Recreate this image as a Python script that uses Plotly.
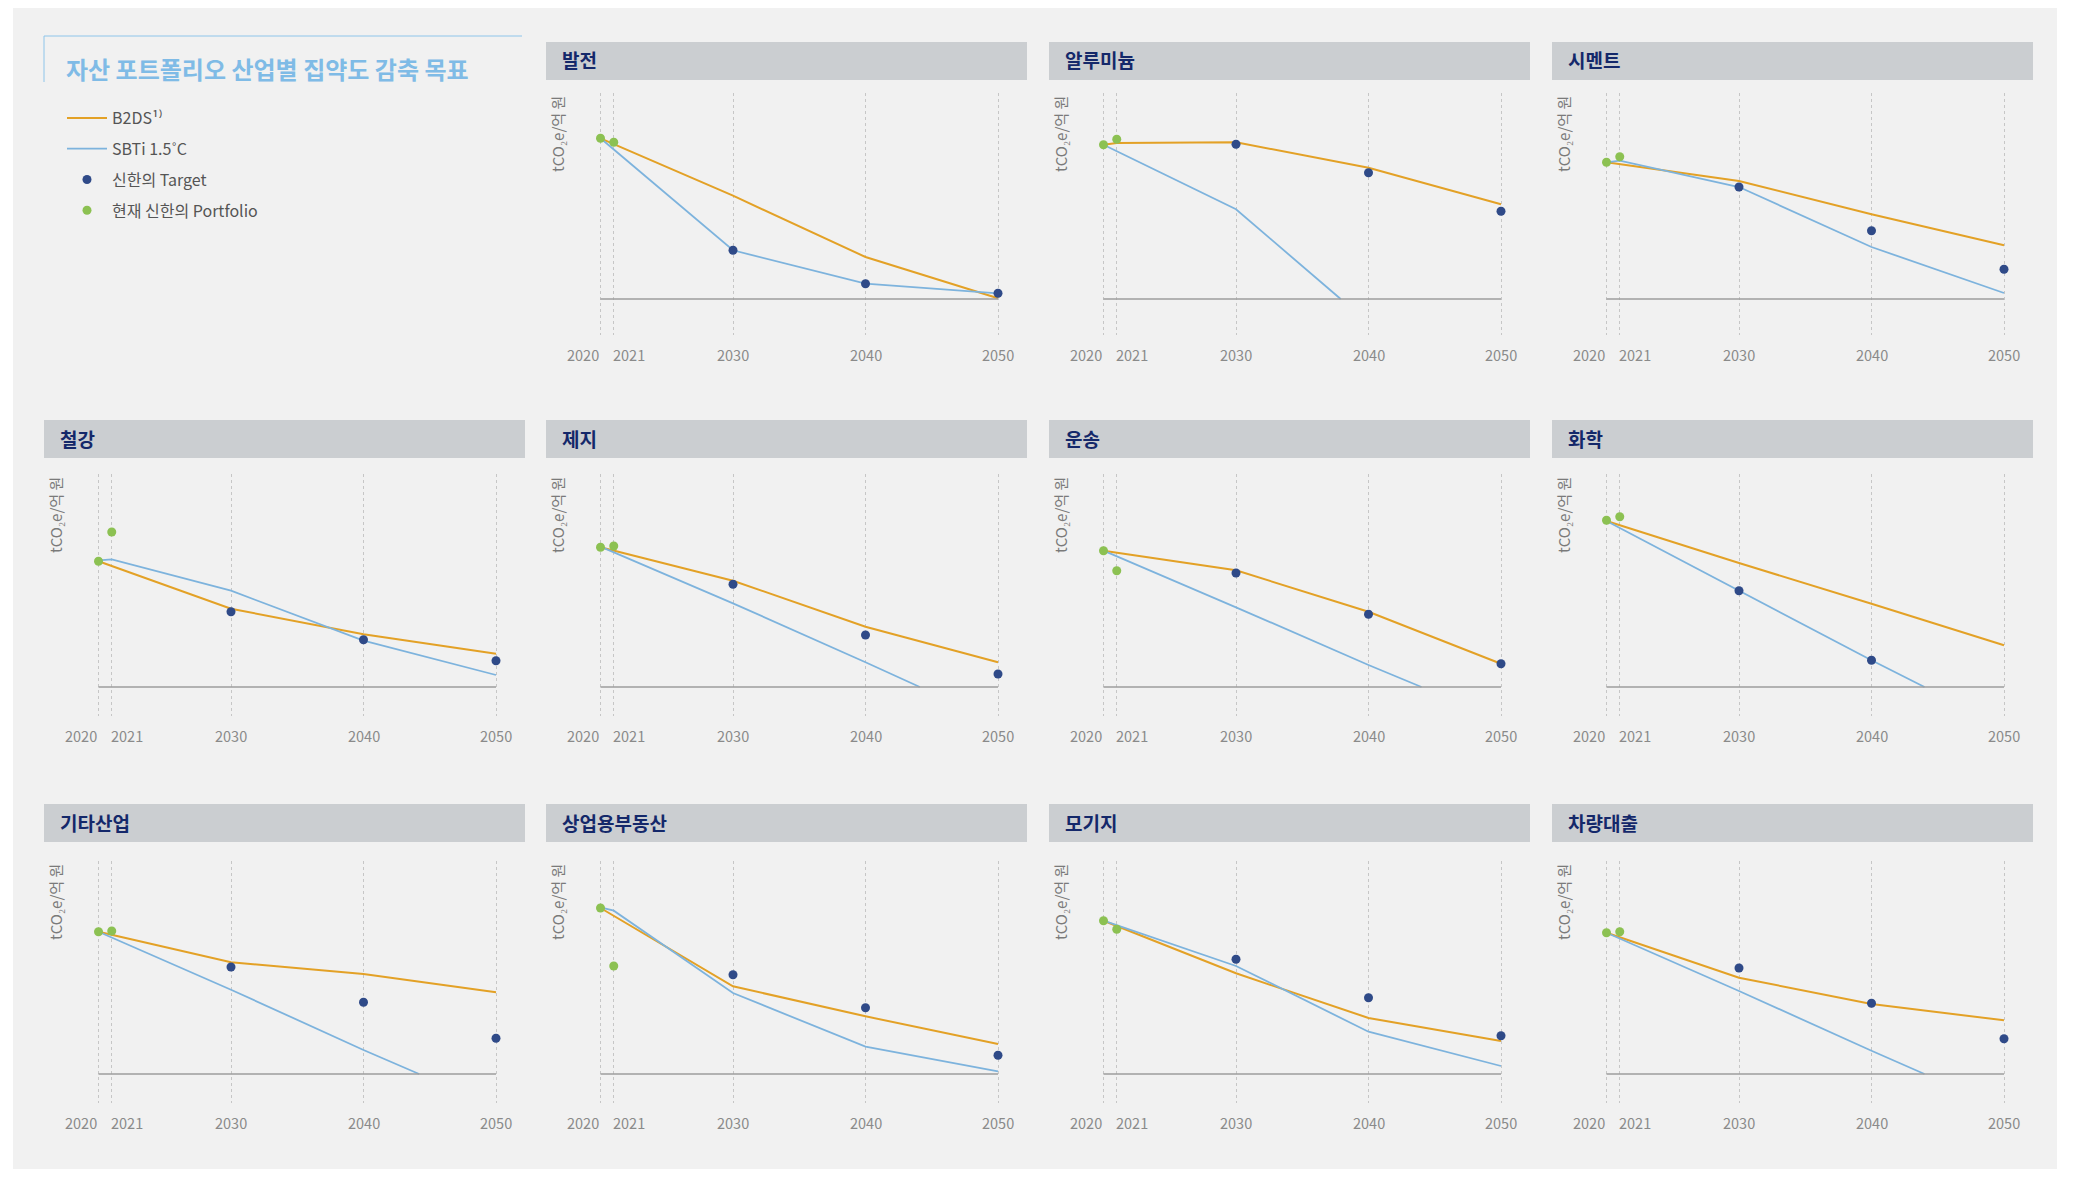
import plotly.graph_objects as go

# ---------------- data (unit-less intensity index) ----------------
SECTORS = ["발전", "알루미늄", "시멘트", "철강", "제지", "운송", "화학",
           "기타산업", "상업용부동산", "모기지", "차량대출"]

B2DS_X = [
    [2020, 2030, 2040, 2050],
    [2020, 2021, 2030, 2040, 2050],
    [2020, 2030, 2040, 2050],
    [2020, 2030, 2040, 2050],
    [2020, 2030, 2040, 2050],
    [2020, 2030, 2040, 2050],
    [2020, 2030, 2040, 2050],
    [2020, 2030, 2040, 2050],
    [2020, 2030, 2040, 2050],
    [2020, 2030, 2040, 2050],
    [2020, 2030, 2040, 2050],
]
B2DS_Y = [
    [160.7, 103.3, 42.0, 0.7],
    [154.3, 156.0, 156.7, 131.3, 94.7],
    [136.7, 118.0, 84.7, 53.7],
    [125.7, 78.3, 52.7, 33.3],
    [139.7, 106.3, 60.3, 24.7],
    [136.3, 116.7, 75.3, 23.3],
    [166.0, 124.0, 83.3, 41.7],
    [142.3, 111.7, 100.0, 81.7],
    [166.0, 87.7, 57.7, 30.0],
    [153.3, 100.7, 56.0, 33.0],
    [141.3, 96.3, 70.0, 53.7],
]

SBTI_X = [
    [2020, 2030, 2040, 2050],
    [2020, 2030, 2037.9],
    [2020, 2021, 2030, 2040, 2050],
    [2020, 2021, 2030, 2040, 2050],
    [2020, 2030, 2040, 2044.1],
    [2020, 2030, 2040, 2044.0],
    [2020, 2030, 2040, 2044.0],
    [2020, 2030, 2040, 2044.2],
    [2020, 2021, 2030, 2040, 2050],
    [2020, 2030, 2040, 2050],
    [2020, 2030, 2040, 2044.0],
]
SBTI_Y = [
    [160.7, 48.7, 15.3, 5.7],
    [154.3, 89.7, 0.0],
    [136.7, 138.3, 112.0, 52.0, 6.0],
    [126.7, 127.7, 96.3, 46.3, 12.0],
    [140.3, 83.7, 24.7, 0.0],
    [136.3, 79.7, 22.0, 0.0],
    [166.0, 96.3, 26.7, 0.0],
    [142.3, 84.3, 24.0, 0.0],
    [166.7, 163.3, 81.0, 27.3, 2.7],
    [153.3, 108.0, 42.3, 8.0],
    [141.3, 83.0, 23.3, 0.0],
]

TARGET_X = [
    [2030, 2040, 2050], [2030, 2040, 2050], [2030, 2040, 2050], [2030, 2040, 2050],
    [2030, 2040, 2050], [2030, 2040, 2050], [2030, 2040], [2030, 2040, 2050],
    [2030, 2040, 2050], [2030, 2040, 2050], [2030, 2040, 2050],
]
TARGET_Y = [
    [48.7, 15.3, 5.7],
    [154.7, 126.3, 87.7],
    [112.0, 68.3, 29.7],
    [75.3, 47.3, 26.3],
    [102.7, 52.0, 13.0],
    [114.0, 72.7, 23.3],
    [96.3, 26.7],
    [107.0, 71.7, 35.7],
    [99.3, 66.3, 18.7],
    [114.7, 76.3, 38.3],
    [106.0, 70.7, 35.3],
]

PORTFOLIO_X = [2020, 2021]
PORTFOLIO_Y = [
    [160.7, 156.7],
    [154.3, 159.7],
    [136.7, 142.3],
    [125.7, 155.0],
    [139.7, 141.0],
    [136.3, 116.3],
    [166.7, 170.3],
    [142.3, 143.0],
    [166.0, 108.0],
    [153.3, 144.7],
    [141.3, 142.3],
]

TICK_YEARS = [2020, 2021, 2030, 2040, 2050]
TICK_LABELS = ["2020", "2021", "2030", "2040", "2050"]

SERIES_NAMES = ["B2DS¹⁾", "SBTi 1.5˚C", "신한의 Target", "현재 신한의 Portfolio"]
TITLE = "자산 포트폴리오 산업별 집약도 감축 목표"
Y_TITLE = "tCO₂e/억 원"

# ---------------- styles / layout geometry ----------------
W, H = 2078, 1177          # screenshot size
M = 8                      # page body margin
FW, FH = W - 2 * M, H - 2 * M
FONT = "Noto Sans CJK KR"
ORANGE = "#e3a126"
BLUE = "#7db3dd"
NAVY = "#2f4a88"
GREEN = "#8cc152"
HEADER_BG = "#cbced1"
HEADER_FG = "#14286a"
PANEL_BG = "#f1f1f1"

PANEL_POS = [(0, 1), (0, 2), (0, 3), (1, 0), (1, 1), (1, 2), (1, 3),
             (2, 0), (2, 1), (2, 2), (2, 3)]
COL_LEFT = [44, 546, 1049, 1552]
PANEL_W = 481
ROW_HEADER_TOP = [42, 420, 804]
HEADER_H = 38
ROW_PLOT_TOP = [93, 474, 861]
PLOT_H = 242
ROW_ZERO_OFF = [36, 29, 29]
X0_OFF = 54.5          # px from panel left to year 2020
PX_PER_YEAR = 13.25


def px(x):
    return (x - M) / FW


def py(y):
    return 1 - (y - M) / FH


fig = go.Figure()
shapes = []
annotations = []

# grey page background
shapes.append(dict(type="rect", xref="paper", yref="paper", x0=px(13), x1=px(2057),
                   y0=0, y1=1, fillcolor=PANEL_BG, line=dict(width=0), layer="below"))
# title bracket
shapes.append(dict(type="line", xref="paper", yref="paper", x0=px(44), x1=px(522),
                   y0=py(36), y1=py(36), line=dict(color="#8ec5ea", width=1)))
shapes.append(dict(type="line", xref="paper", yref="paper", x0=px(44), x1=px(44),
                   y0=py(36), y1=py(82), line=dict(color="#8ec5ea", width=1)))
annotations.append(dict(text=TITLE, xref="paper", yref="paper", x=px(64), y=py(68),
                        xanchor="left", yanchor="middle", showarrow=False,
                        font=dict(family=FONT, size=24, color="#7fbbe6", weight="bold")))

xr = [2020 - X0_OFF / PX_PER_YEAR, 2020 + (PANEL_W - X0_OFF) / PX_PER_YEAR]

layout_axes = {}
for i, name in enumerate(SECTORS):
    r, c = PANEL_POS[i]
    L = COL_LEFT[c]
    n = i + 1
    xa = "x" if n == 1 else f"x{n}"
    ya = "y" if n == 1 else f"y{n}"
    xkey = "xaxis" if n == 1 else f"xaxis{n}"
    ykey = "yaxis" if n == 1 else f"yaxis{n}"
    top = ROW_PLOT_TOP[r]
    off = ROW_ZERO_OFF[r]
    layout_axes[xkey] = dict(domain=[px(L), px(L + PANEL_W)], range=xr, anchor=ya,
                             tickvals=TICK_YEARS, showticklabels=False, ticks="",
                             showgrid=True, gridcolor="#c6c6c6", gridwidth=1, griddash="3px,3px",
                             zeroline=False, showline=False, fixedrange=True)
    layout_axes[ykey] = dict(domain=[py(top + PLOT_H), py(top)], range=[-off, PLOT_H - off],
                             anchor=xa, showticklabels=False, ticks="", showgrid=False,
                             zeroline=False, showline=False, fixedrange=True)

    # header bar + title
    ht = ROW_HEADER_TOP[r]
    shapes.append(dict(type="rect", xref="paper", yref="paper", x0=px(L), x1=px(L + PANEL_W),
                       y0=py(ht + HEADER_H), y1=py(ht), fillcolor=HEADER_BG,
                       line=dict(width=0), layer="below"))
    annotations.append(dict(text=name, xref="paper", yref="paper", x=px(L + 14),
                            y=py(ht + HEADER_H / 2 - 1), xanchor="left", yanchor="middle",
                            showarrow=False,
                            font=dict(family=FONT, size=19, color=HEADER_FG, weight="bold")))
    # y-axis title
    annotations.append(dict(text=Y_TITLE, xref="paper", yref="paper", x=px(L + 11),
                            y=py(top + 1), xanchor="center", yanchor="top", textangle=-90,
                            showarrow=False, font=dict(family=FONT, size=15, color="#7a7a7a")))
    # baseline
    shapes.append(dict(type="line", xref=xa, yref=ya, x0=TICK_YEARS[0], x1=TICK_YEARS[-1],
                       y0=0, y1=0, line=dict(color="#9c9c9c", width=1.5)))
    # tick labels
    for yr, lab in zip(TICK_YEARS, TICK_LABELS):
        if yr == 2020:
            anc, sh = "right", 0
        elif yr == 2021:
            anc, sh = "left", -3
        else:
            anc, sh = "center", 0
        annotations.append(dict(text=lab, xref=xa, yref=f"{ya} domain", x=yr, y=0,
                                xanchor=anc, yanchor="middle", xshift=sh, yshift=-19,
                                showarrow=False,
                                font=dict(family=FONT, size=14.5, color="#8a8a8a")))

    show = (i == 0)
    fig.add_trace(go.Scatter(x=B2DS_X[i], y=B2DS_Y[i], mode="lines", name=SERIES_NAMES[0],
                             legendgroup="b2ds", showlegend=show, xaxis=xa, yaxis=ya,
                             line=dict(color=ORANGE, width=2), hoverinfo="skip"))
    fig.add_trace(go.Scatter(x=SBTI_X[i], y=SBTI_Y[i], mode="lines", name=SERIES_NAMES[1],
                             legendgroup="sbti", showlegend=show, xaxis=xa, yaxis=ya,
                             line=dict(color=BLUE, width=1.8), hoverinfo="skip"))
    fig.add_trace(go.Scatter(x=TARGET_X[i], y=TARGET_Y[i], mode="markers", name=SERIES_NAMES[2],
                             legendgroup="target", showlegend=show, xaxis=xa, yaxis=ya,
                             marker=dict(color=NAVY, size=9), cliponaxis=False))
    fig.add_trace(go.Scatter(x=PORTFOLIO_X, y=PORTFOLIO_Y[i], mode="markers",
                             name=SERIES_NAMES[3], legendgroup="portfolio", showlegend=show,
                             xaxis=xa, yaxis=ya, marker=dict(color=GREEN, size=9),
                             cliponaxis=False))

fig.update_layout(
    width=FW, height=FH,
    margin=dict(l=0, r=0, t=0, b=0),
    paper_bgcolor="white",
    plot_bgcolor="rgba(0,0,0,0)",
    font=dict(family=FONT, color="#555555"),
    shapes=shapes,
    annotations=annotations,
    showlegend=True,
    legend=dict(x=px(62), y=py(101), xanchor="left", yanchor="top",
                bgcolor="rgba(0,0,0,0)", borderwidth=0,
                font=dict(family=FONT, size=16, color="#555555"),
                itemwidth=40, tracegroupgap=7, traceorder="grouped"),
    **layout_axes,
)

fig.write_html("out.html")
